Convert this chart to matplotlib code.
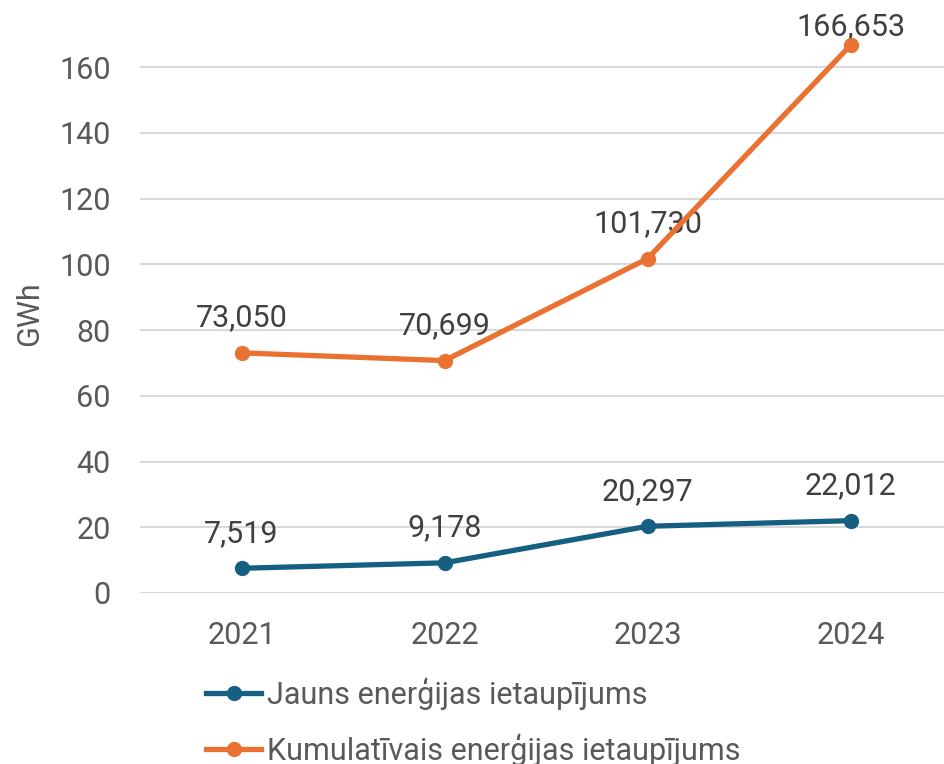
import matplotlib
matplotlib.use("Agg")
import matplotlib.pyplot as plt

# 字体
plt.rcParams["font.family"] = ["Roboto", "DejaVu Sans"]

years = ["2021", "2022", "2023", "2024"]
jauns = [7.519, 9.178, 20.297, 22.012]
kumul = [73.050, 70.699, 101.730, 166.653]
jauns_labels = ["7,519", "9,178", "20,297", "22,012"]
kumul_labels = ["73,050", "70,699", "101,730", "166,653"]
yticks = [0, 20, 40, 60, 80, 100, 120, 140, 160]

blue = "#156082"
orange = "#E97132"
text_c = "#595959"
grid_c = "#D9D9D9"
fs = 22

fig = plt.figure(figsize=(9.44, 7.64), dpi=100)
ax = fig.add_axes([140 / 944, 171 / 764, 804 / 944, 593 / 764])

x = list(range(len(years)))
ax.plot(x, jauns, color=blue, lw=3.8, marker="o", ms=10,
        label="Jauns enerģijas ietaupījums", zorder=3, clip_on=False)
ax.plot(x, kumul, color=orange, lw=3.8, marker="o", ms=10,
        label="Kumulatīvais enerģijas ietaupījums", zorder=3, clip_on=False)

# 数据标签（最后一个橙色标签贴近图顶，往下压）
for xi, v, s in zip(x, jauns, jauns_labels):
    ax.annotate(s, (xi, v), xytext=(0, 19), textcoords="offset points",
                ha="center", va="baseline", fontsize=fs, color="#404040", zorder=2)
for i, (xi, v, s) in enumerate(zip(x, kumul, kumul_labels)):
    dy = 7 if i == len(x) - 1 else 19
    ax.annotate(s, (xi, v), xytext=(0, dy), textcoords="offset points",
                ha="center", va="baseline", fontsize=fs, color="#404040", zorder=2)

ax.set_xlim(-0.5, 3.46)
ax.set_ylim(0, 180.4)
ax.set_yticks(yticks)
ax.set_xticks(x)
ax.set_xticklabels(years)
ax.tick_params(axis="both", length=0, labelsize=fs, labelcolor=text_c)
ax.tick_params(axis="x", pad=20)
ax.tick_params(axis="y", pad=21)
ax.grid(True, axis="y", color=grid_c, lw=1.5, zorder=0)
ax.set_axisbelow(True)
for sp in ax.spines.values():
    sp.set_visible(False)

fig.text(30 / 944, 1 - 314 / 764, "GWh", rotation=90, ha="center", va="center",
         fontsize=fs, color=text_c)

fig.legend(loc="upper left", bbox_to_anchor=(206 / 944, 1 - 677 / 764),
           frameon=False, fontsize=fs, labelcolor=text_c, handlelength=1.8,
           handletextpad=0.2, labelspacing=0.78, borderaxespad=0, borderpad=0)

fig.savefig("out.png", dpi=100)
